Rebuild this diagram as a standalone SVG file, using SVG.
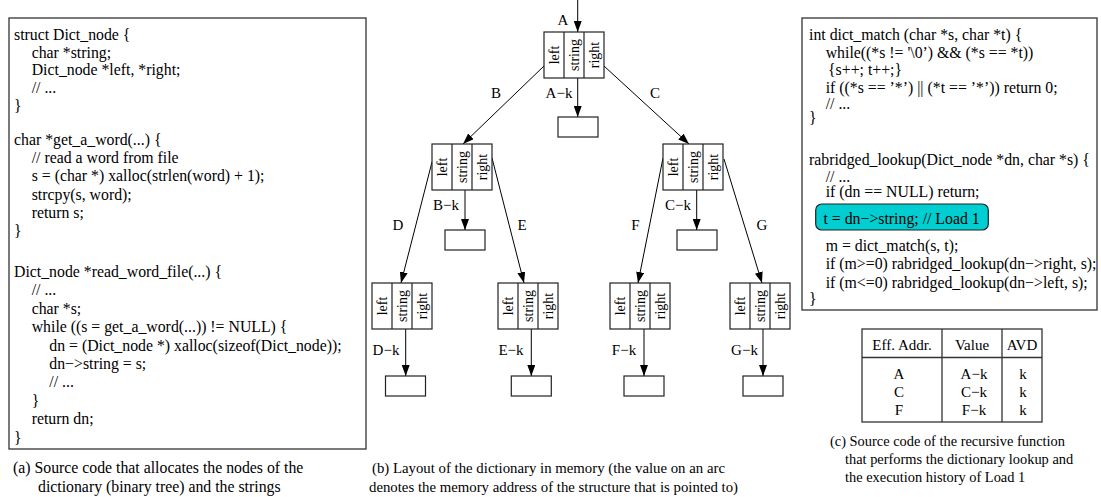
<svg xmlns="http://www.w3.org/2000/svg" width="1101" height="497" viewBox="0 0 1101 497">
<defs>
<style>
text{font-family:"Liberation Serif","Times New Roman",serif;fill:#000}
.code{font-size:15.8px}
.capa{font-size:15.8px}
.capb{font-size:14.8px}
.capc{font-size:14.4px}
.cell{font-size:14px;text-anchor:middle}
.lbl{font-size:15px;text-anchor:middle}
.tb{font-size:15px;text-anchor:middle}
.box{fill:none;stroke:#333;stroke-width:1.3}
.nb{fill:#fff;stroke:#222;stroke-width:1.2}
.edge{fill:none;stroke:#000;stroke-width:1}
</style>
<marker id="ah" markerWidth="11" markerHeight="8" refX="11" refY="4" orient="auto" markerUnits="userSpaceOnUse">
<path d="M0,0 L11,4 L0,8 z" fill="#000"/>
</marker>
</defs>
<rect width="1101" height="497" fill="#fff"/>

<!-- (a) left code panel -->
<g id="code-a">
<rect class="box" x="9" y="18" width="357" height="431"/>
<text class="code" x="14" y="40">struct Dict_node {</text>
<text class="code" x="31.7" y="57.7">char *string;</text>
<text class="code" x="31.7" y="75.4">Dict_node *left, *right;</text>
<text class="code" x="31.7" y="93">// ...</text>
<text class="code" x="14" y="110.8">}</text>
<text class="code" x="14" y="145">char *get_a_word(...) {</text>
<text class="code" x="31.7" y="163.2">// read a word from file</text>
<text class="code" x="31.7" y="181.4">s = (char *) xalloc(strlen(word) + 1);</text>
<text class="code" x="31.7" y="199.6">strcpy(s, word);</text>
<text class="code" x="31.7" y="217.8">return s;</text>
<text class="code" x="14" y="236">}</text>
<text class="code" x="14" y="277">Dict_node *read_word_file(...) {</text>
<text class="code" x="31.7" y="295.4">// ...</text>
<text class="code" x="31.7" y="313.8">char *s;</text>
<text class="code" x="31.7" y="332.2">while ((s = get_a_word(...)) != NULL) {</text>
<text class="code" x="49.3" y="350.6">dn = (Dict_node *) xalloc(sizeof(Dict_node));</text>
<text class="code" x="49.3" y="369">dn−&gt;string = s;</text>
<text class="code" x="49.3" y="387.4">// ...</text>
<text class="code" x="31.7" y="405.8">}</text>
<text class="code" x="31.7" y="424.2">return dn;</text>
<text class="code" x="14" y="442.6">}</text>
</g>
<g id="caption-a">
<text class="capa" x="13" y="473">(a) Source code that allocates the nodes of the</text>
<text class="capa" x="38" y="492">dictionary (binary tree) and the strings</text>
</g>

<!-- (b) tree -->
<g id="connectors">
<line class="edge" x1="577.7" y1="0" x2="577.7" y2="32" marker-end="url(#ah)"/>
<line class="edge" x1="577.7" y1="78" x2="577.7" y2="117" marker-end="url(#ah)"/>
<line class="edge" x1="544" y1="66" x2="463" y2="144" marker-end="url(#ah)"/>
<line class="edge" x1="604" y1="66" x2="689" y2="144" marker-end="url(#ah)"/>
<line class="edge" x1="465" y1="190" x2="465" y2="230" marker-end="url(#ah)"/>
<line class="edge" x1="696.7" y1="190" x2="696.7" y2="230" marker-end="url(#ah)"/>
<line class="edge" x1="432" y1="162" x2="401" y2="283" marker-end="url(#ah)"/>
<line class="edge" x1="492" y1="158" x2="524" y2="283" marker-end="url(#ah)"/>
<line class="edge" x1="663" y1="158" x2="638" y2="283" marker-end="url(#ah)"/>
<line class="edge" x1="724" y1="159" x2="762" y2="283" marker-end="url(#ah)"/>
<line class="edge" x1="405.7" y1="329" x2="405.7" y2="376" marker-end="url(#ah)"/>
<line class="edge" x1="531.3" y1="329" x2="531.3" y2="376" marker-end="url(#ah)"/>
<line class="edge" x1="644" y1="329" x2="644" y2="376" marker-end="url(#ah)"/>
<line class="edge" x1="763" y1="329" x2="763" y2="376" marker-end="url(#ah)"/>
<text class="lbl" x="563" y="25">A</text>
<text class="lbl" x="559" y="97.5">A−k</text>
<text class="lbl" x="496" y="98">B</text>
<text class="lbl" x="655" y="98">C</text>
<text class="lbl" x="446" y="210">B−k</text>
<text class="lbl" x="678" y="210">C−k</text>
<text class="lbl" x="398" y="230">D</text>
<text class="lbl" x="522" y="230">E</text>
<text class="lbl" x="635.5" y="230">F</text>
<text class="lbl" x="762" y="230">G</text>
<text class="lbl" x="386" y="355">D−k</text>
<text class="lbl" x="511" y="355">E−k</text>
<text class="lbl" x="624" y="355">F−k</text>
<text class="lbl" x="744.5" y="355">G−k</text>
</g>

<g id="nodeA" transform="translate(544,32)">
<rect class="nb" width="60" height="46"/><path class="nb" d="M20,0V46M40,0V46"/>
<text class="cell" transform="translate(15,23) rotate(-90)">left</text>
<text class="cell" transform="translate(35,23) rotate(-90)">string</text>
<text class="cell" transform="translate(55,23) rotate(-90)">right</text>
</g>
<g id="nodeB" transform="translate(432,144)">
<rect class="nb" width="60" height="46"/><path class="nb" d="M20,0V46M40,0V46"/>
<text class="cell" transform="translate(15,23) rotate(-90)">left</text>
<text class="cell" transform="translate(35,23) rotate(-90)">string</text>
<text class="cell" transform="translate(55,23) rotate(-90)">right</text>
</g>
<g id="nodeC" transform="translate(663,144)">
<rect class="nb" width="60" height="46"/><path class="nb" d="M20,0V46M40,0V46"/>
<text class="cell" transform="translate(15,23) rotate(-90)">left</text>
<text class="cell" transform="translate(35,23) rotate(-90)">string</text>
<text class="cell" transform="translate(55,23) rotate(-90)">right</text>
</g>
<g id="nodeD" transform="translate(372,283)">
<rect class="nb" width="60" height="46"/><path class="nb" d="M20,0V46M40,0V46"/>
<text class="cell" transform="translate(15,23) rotate(-90)">left</text>
<text class="cell" transform="translate(35,23) rotate(-90)">string</text>
<text class="cell" transform="translate(55,23) rotate(-90)">right</text>
</g>
<g id="nodeE" transform="translate(498,283)">
<rect class="nb" width="60" height="46"/><path class="nb" d="M20,0V46M40,0V46"/>
<text class="cell" transform="translate(15,23) rotate(-90)">left</text>
<text class="cell" transform="translate(35,23) rotate(-90)">string</text>
<text class="cell" transform="translate(55,23) rotate(-90)">right</text>
</g>
<g id="nodeF" transform="translate(610,283)">
<rect class="nb" width="60" height="46"/><path class="nb" d="M20,0V46M40,0V46"/>
<text class="cell" transform="translate(15,23) rotate(-90)">left</text>
<text class="cell" transform="translate(35,23) rotate(-90)">string</text>
<text class="cell" transform="translate(55,23) rotate(-90)">right</text>
</g>
<g id="nodeG" transform="translate(730,283)">
<rect class="nb" width="60" height="46"/><path class="nb" d="M20,0V46M40,0V46"/>
<text class="cell" transform="translate(15,23) rotate(-90)">left</text>
<text class="cell" transform="translate(35,23) rotate(-90)">string</text>
<text class="cell" transform="translate(55,23) rotate(-90)">right</text>
</g>
<g id="strA"><rect class="nb" x="558" y="117" width="40" height="20"/></g>
<g id="strB"><rect class="nb" x="445" y="230" width="40" height="20"/></g>
<g id="strC"><rect class="nb" x="677" y="230" width="40" height="20"/></g>
<g id="strD"><rect class="nb" x="385.5" y="376" width="40" height="20"/></g>
<g id="strE"><rect class="nb" x="511.3" y="376" width="40" height="20"/></g>
<g id="strF"><rect class="nb" x="624" y="376" width="40" height="20"/></g>
<g id="strG"><rect class="nb" x="743" y="376" width="40" height="20"/></g>

<g id="caption-b">
<text class="capb" x="372" y="473">(b) Layout of the dictionary in memory (the value on an arc</text>
<text class="capb" x="369" y="492">denotes the memory address of the structure that is pointed to)</text>
</g>

<!-- (c) right code panel -->
<g id="code-c">
<rect class="box" x="802" y="18" width="295" height="292"/>
<text class="code" x="809" y="40">int dict_match (char *s, char *t) {</text>
<text class="code" x="825.7" y="57.7">while((*s != '\0’) &amp;&amp; (*s == *t))</text>
<text class="code" x="828" y="75.4">{s++; t++;}</text>
<text class="code" x="825.7" y="92.8">if ((*s == ’*’) || (*t == ’*’)) return 0;</text>
<text class="code" x="825.7" y="108.5">// ...</text>
<text class="code" x="809" y="122.5">}</text>
<text class="code" x="809" y="165">rabridged_lookup(Dict_node *dn, char *s) {</text>
<text class="code" x="825.7" y="182">// ...</text>
<text class="code" x="825.7" y="197">if (dn == NULL) return;</text>
<rect x="815.7" y="204" width="172.6" height="26" rx="6" fill="#00CED1" stroke="#222" stroke-width="1.2"/>
<text class="code" x="823.5" y="224">t = dn−&gt;string; // Load 1</text>
<text class="code" x="825.7" y="251">m = dict_match(s, t);</text>
<text class="code" x="825.7" y="269.3">if (m&gt;=0) rabridged_lookup(dn−&gt;right, s);</text>
<text class="code" x="825.7" y="287.6">if (m&lt;=0) rabridged_lookup(dn−&gt;left, s);</text>
<text class="code" x="809" y="304">}</text>
</g>

<g id="table">
<rect class="box" x="862" y="329" width="180" height="93"/>
<path class="box" d="M862,357.5H1042M942,329V422M1002,329V422"/>
<text class="tb" x="902" y="350">Eff. Addr.</text>
<text class="tb" x="972" y="350">Value</text>
<text class="tb" x="1022" y="350">AVD</text>
<text class="tb" x="899" y="378.5">A</text>
<text class="tb" x="974" y="378.5">A−k</text>
<text class="tb" x="1023" y="378.5">k</text>
<text class="tb" x="899" y="396.8">C</text>
<text class="tb" x="974" y="396.8">C−k</text>
<text class="tb" x="1023" y="396.8">k</text>
<text class="tb" x="899" y="415">F</text>
<text class="tb" x="974" y="415">F−k</text>
<text class="tb" x="1023" y="415">k</text>
</g>

<g id="caption-c">
<text class="capc" x="830" y="446">(c) Source code of the recursive function</text>
<text class="capc" x="845" y="464">that performs the dictionary lookup and</text>
<text class="capc" x="845" y="482">the execution history of Load 1</text>
</g>
</svg>
